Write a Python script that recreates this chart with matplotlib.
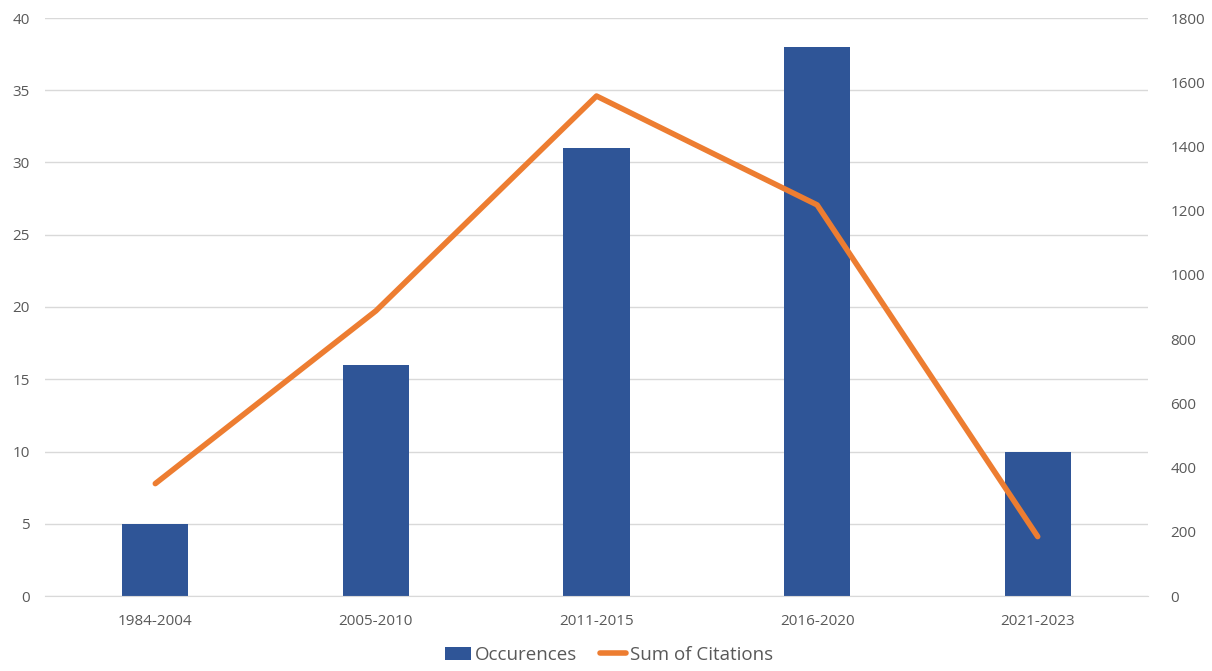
import numpy as np
import matplotlib
matplotlib.use("Agg")
import matplotlib.pyplot as plt

# ---- data
periods = ["1984-2004", "2005-2010", "2011-2015", "2016-2020", "2021-2023"]
occurences = [5, 16, 31, 38, 10]
citations = [350, 888, 1557, 1218, 185]

BAR = "#2F5597"
LINE = "#ED7D31"
GRID = "#D9D9D9"
TXT = "#595959"

plt.rcParams['font.family'] = ['Open Sans', 'DejaVu Sans']

fig = plt.figure(figsize=(12.12, 6.71), dpi=100)
ax = fig.add_axes([45/1212, 1-596/671, (1148-45)/1212, (596-18)/671])
ax2 = ax.twinx()

x = np.arange(len(periods))
ax.bar(x, occurences, width=0.30, color=BAR, label="Occurences", zorder=2)
ax2.plot(x, citations, color=LINE, lw=4, solid_capstyle='round', label="Sum of Citations", zorder=3)

ax.set_xlim(-0.5, len(periods)-0.5)
ax.set_ylim(0, 40)
ax.set_yticks(range(0, 41, 5))
ax2.set_ylim(0, 1800)
ax2.set_yticks(range(0, 1801, 200))
ax.set_xticks(x)
ax.set_xticklabels(periods)

ax.grid(axis='y', color=GRID, lw=1, zorder=0)
ax.set_axisbelow(True)
for a in (ax, ax2):
    for s in a.spines.values():
        s.set_visible(False)
    a.tick_params(length=0, colors=TXT, labelsize=11)
ax.spines['bottom'].set_visible(True)
ax.spines['bottom'].set_color(GRID)
ax.tick_params(axis='x', pad=13)
ax.tick_params(axis='y', pad=11)
ax2.tick_params(axis='y', pad=16)

h1, l1 = ax.get_legend_handles_labels()
h2, l2 = ax2.get_legend_handles_labels()
fig.legend(h1 + h2, l1 + l2, loc='center', bbox_to_anchor=(609/1212, 1-655/671),
           ncol=2, frameon=False, fontsize=13.5, labelcolor=TXT,
           handlelength=1.4, handletextpad=0.2, columnspacing=1.2)

fig.savefig("out.png", dpi=100)
